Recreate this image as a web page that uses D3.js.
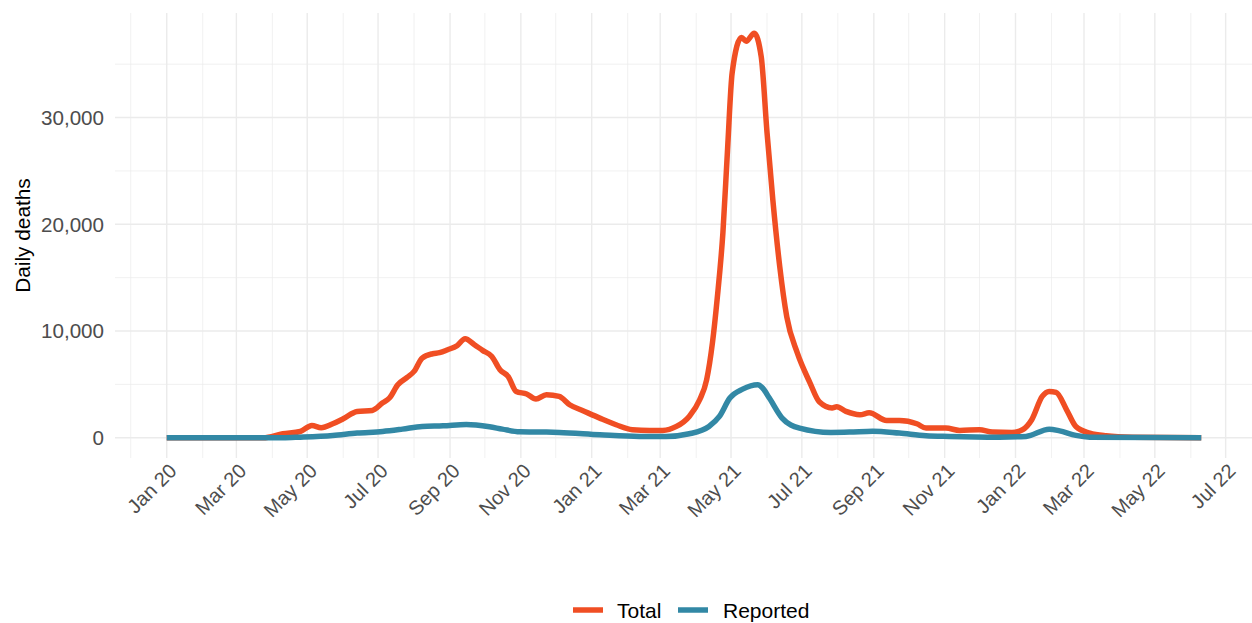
<!DOCTYPE html>
<html>
<head>
<meta charset="utf-8">
<script src="https://cdn.jsdelivr.net/npm/d3@7"></script>
<style>
  html, body { margin: 0; padding: 0; background: #fff; }
  svg { display: block; font-family: "Liberation Sans", Arial, sans-serif; }
</style>
</head>
<body>
<svg id="chart" width="1252" height="623"></svg>
<script>
// ---- Data ----
const totalDates = ["2020-01-01","2020-03-24","2020-04-10","2020-04-25","2020-05-05","2020-05-13","2020-05-23","2020-06-01","2020-06-13","2020-06-26","2020-07-05","2020-07-11","2020-07-18","2020-07-26","2020-08-01","2020-08-08","2020-08-17","2020-08-23","2020-08-30","2020-09-07","2020-09-14","2020-09-22","2020-09-29","2020-10-07","2020-10-14","2020-10-21","2020-10-28","2020-11-06","2020-11-14","2020-11-23","2020-12-04","2020-12-13","2020-12-24","2021-01-08","2021-01-22","2021-02-05","2021-02-20","2021-03-03","2021-03-15","2021-03-26","2021-04-04","2021-04-10","2021-04-15","2021-04-19","2021-04-24","2021-04-28","2021-05-02","2021-05-10","2021-05-14","2021-05-21","2021-05-27","2021-06-01","2021-06-06","2021-06-12","2021-06-18","2021-06-27","2021-07-08","2021-07-16","2021-07-27","2021-07-31","2021-08-08","2021-08-20","2021-08-28","2021-09-12","2021-09-23","2021-10-08","2021-10-16","2021-11-02","2021-11-14","2021-12-01","2021-12-12","2021-12-29","2022-01-07","2022-01-15","2022-01-24","2022-01-30","2022-02-05","2022-02-14","2022-02-22","2022-03-06","2022-03-20","2022-04-12","2022-06-10"];
const totalValues = [0,0,375,590,1150,940,1310,1780,2470,2560,3280,3750,4970,5650,6220,7470,7875,7970,8250,8625,9280,8720,8190,7620,6375,5750,4340,4100,3630,4030,3870,3090,2560,1840,1220,750,690,690,1060,2000,3560,5440,8900,12940,19200,27000,34200,37500,37150,37900,35700,28600,22300,16000,11340,7970,5150,3375,2800,2900,2470,2160,2340,1620,1620,1310,910,910,690,750,530,500,750,1690,3870,4340,4250,2625,1060,440,190,60,0];

const reportedDates = ["2020-01-01","2020-04-10","2020-04-25","2020-05-23","2020-06-13","2020-07-05","2020-07-22","2020-08-08","2020-08-26","2020-09-15","2020-10-05","2020-10-16","2020-10-31","2020-11-23","2020-12-04","2021-01-08","2021-02-11","2021-03-06","2021-03-26","2021-04-12","2021-04-21","2021-04-30","2021-05-11","2021-05-24","2021-05-28","2021-06-03","2021-06-14","2021-06-29","2021-07-26","2021-08-11","2021-08-31","2021-09-23","2021-10-16","2021-11-05","2021-12-18","2022-01-10","2022-01-30","2022-02-08","2022-02-22","2022-03-06","2022-06-10"];
const reportedValues = [0,0,60,220,440,590,810,1060,1125,1250,1030,810,560,530,500,280,125,125,375,1060,2000,3720,4560,4970,4690,3720,1840,910,500,530,620,440,190,125,60,125,810,650,220,60,0];

const seriesNames = ["Total", "Reported"];
const seriesColors = ["#F04E23", "#3288A5"];

const yTicks = [0, 10000, 20000, 30000];
const yMinorTicks = [5000, 15000, 25000, 35000];
const xTickLabelFormat = "%b %y";

// ---- Layout ----
const W = 1252, H = 623;
const panel = { left: 115, right: 1253, top: 13, bottom: 458 };

const parse = d3.timeParse("%Y-%m-%d");
const total = totalDates.map((d, i) => ({ date: parse(d), value: totalValues[i] }));
const reported = reportedDates.map((d, i) => ({ date: parse(d), value: reportedValues[i] }));
const all = total.concat(reported);

// ggplot-like 5% expansion
const xExt = d3.extent(all, d => +d.date);
const xPad = (xExt[1] - xExt[0]) * 0.05;
const x = d3.scaleTime()
  .domain([new Date(xExt[0] - xPad), new Date(xExt[1] + xPad)])
  .range([panel.left, panel.right]);

const yMax = d3.max(all, d => d.value);
const yPad = yMax * 0.05;
const y = d3.scaleLinear()
  .domain([-yPad, yMax + yPad])
  .range([panel.bottom, panel.top]);

const svg = d3.select("#chart");

// grid
const grid = svg.append("g");
const xMajor = d3.timeMonth.every(2).range(new Date(2020, 0, 1), x.domain()[1]);
const xMinor = d3.timeMonth.range(x.domain()[0], x.domain()[1])
  .filter(d => d.getMonth() % 2 === 1);

grid.selectAll(".ymin").data(yMinorTicks).join("line")
  .attr("x1", panel.left).attr("x2", panel.right)
  .attr("y1", d => y(d)).attr("y2", d => y(d))
  .attr("stroke", "#EBEBEB").attr("stroke-width", 0.7);
grid.selectAll(".xmin").data(xMinor).join("line")
  .attr("x1", d => x(d)).attr("x2", d => x(d))
  .attr("y1", panel.top).attr("y2", panel.bottom)
  .attr("stroke", "#EBEBEB").attr("stroke-width", 0.7);
grid.selectAll(".ymaj").data(yTicks).join("line")
  .attr("x1", panel.left).attr("x2", panel.right)
  .attr("y1", d => y(d)).attr("y2", d => y(d))
  .attr("stroke", "#EBEBEB").attr("stroke-width", 1.4);
grid.selectAll(".xmaj").data(xMajor).join("line")
  .attr("x1", d => x(d)).attr("x2", d => x(d))
  .attr("y1", panel.top).attr("y2", panel.bottom)
  .attr("stroke", "#EBEBEB").attr("stroke-width", 1.4);

// y axis labels
const fmt = d3.format(",");
svg.append("g").selectAll("text").data(yTicks).join("text")
  .attr("x", 104).attr("y", d => y(d))
  .attr("dy", "0.36em")
  .attr("text-anchor", "end")
  .attr("font-size", 20.6)
  .attr("fill", "#4D4D4D")
  .text(d => fmt(d));

// x axis labels
const xf = d3.timeFormat(xTickLabelFormat);
svg.append("g").selectAll("text").data(xMajor).join("text")
  .attr("transform", d => `translate(${x(d) + 1},${462}) rotate(-45)`)
  .attr("text-anchor", "end")
  .attr("dy", "0.72em")
  .attr("font-size", 20)
  .attr("fill", "#4D4D4D")
  .text(d => xf(d));

// y title
svg.append("text")
  .attr("transform", `translate(30,${(panel.top + panel.bottom) / 2}) rotate(-90)`)
  .attr("text-anchor", "middle")
  .attr("font-size", 20.8)
  .attr("fill", "#000")
  .text("Daily deaths");

// lines
const line = d3.line().x(d => x(d.date)).y(d => y(d.value)).curve(d3.curveMonotoneX);
[total, reported].forEach((s, i) => {
  svg.append("path").datum(s)
    .attr("d", line)
    .attr("fill", "none")
    .attr("stroke", seriesColors[i])
    .attr("stroke-width", 5.5)
    .attr("stroke-linejoin", "round");
});

// legend
const legendY = 610;
const legendItems = [{ kx: 573, tx: 617 }, { kx: 678, tx: 723 }];
const lg = svg.append("g");
seriesNames.forEach((name, i) => {
  lg.append("line")
    .attr("x1", legendItems[i].kx).attr("x2", legendItems[i].kx + 30)
    .attr("y1", legendY).attr("y2", legendY)
    .attr("stroke", seriesColors[i]).attr("stroke-width", 5.5);
  lg.append("text")
    .attr("x", legendItems[i].tx).attr("y", legendY)
    .attr("dy", "0.36em")
    .attr("font-size", 21)
    .attr("fill", "#000")
    .text(name);
});
</script>
</body>
</html>
